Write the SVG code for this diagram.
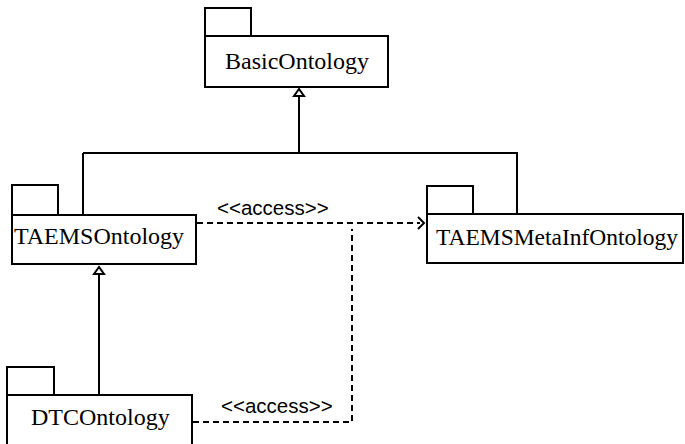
<svg xmlns="http://www.w3.org/2000/svg" width="685" height="444" viewBox="0 0 685 444">
<style>
.box{fill:#fff;stroke:#000;stroke-width:2}
.solid{fill:none;stroke:#000;stroke-width:2}
.dash{fill:none;stroke:#000;stroke-width:2;stroke-dasharray:6,4}
.tri{fill:#fff;stroke:#000;stroke-width:2}
</style>
<rect width="685" height="444" fill="#fff"/>
<g id="connectors">
<path class="solid" d="M299,96 V153 M83,153 H518 M83,153 V215 M517,153 V214"/>
<polygon class="tri" points="299,89 294,96 304,96"/>
<path class="solid" d="M99,274 V395"/>
<polygon class="tri" points="99,267 94,274 104,274"/>
<path class="dash" d="M197,223 H420"/>
<path class="solid" stroke-width="1.6" d="M418,217 L424,223 L418,229"/>
<path class="dash" d="M193,422 H352 V229"/>
<text x="217" y="215" font-family="Liberation Sans" font-size="20.5">&lt;&lt;access&gt;&gt;</text>
<text x="221" y="413" font-family="Liberation Sans" font-size="20.5">&lt;&lt;access&gt;&gt;</text>
</g>
<g id="BasicOntology">
<rect class="box" x="205" y="8" width="46" height="28"/>
<rect class="box" x="205" y="36" width="183" height="51"/>
<text x="297" y="69" text-anchor="middle" font-family="Liberation Serif" font-size="24">BasicOntology</text>
</g>
<g id="TAEMSOntology">
<rect class="box" x="12" y="185" width="46" height="30"/>
<rect class="box" x="12" y="215" width="184" height="49"/>
<text x="14" y="244" font-family="Liberation Serif" font-size="24">TAEMSOntology</text>
</g>
<g id="TAEMSMetaInfOntology">
<rect class="box" x="427" y="186" width="46" height="28"/>
<rect class="box" x="427" y="214" width="256" height="49"/>
<text x="436" y="245" font-family="Liberation Serif" font-size="24" textLength="242" lengthAdjust="spacingAndGlyphs">TAEMSMetaInfOntology</text>
</g>
<g id="DTCOntology">
<rect class="box" x="7" y="367" width="47" height="28"/>
<rect class="box" x="7" y="395" width="185" height="60"/>
<text x="31" y="425" font-family="Liberation Serif" font-size="24">DTCOntology</text>
</g>
</svg>
